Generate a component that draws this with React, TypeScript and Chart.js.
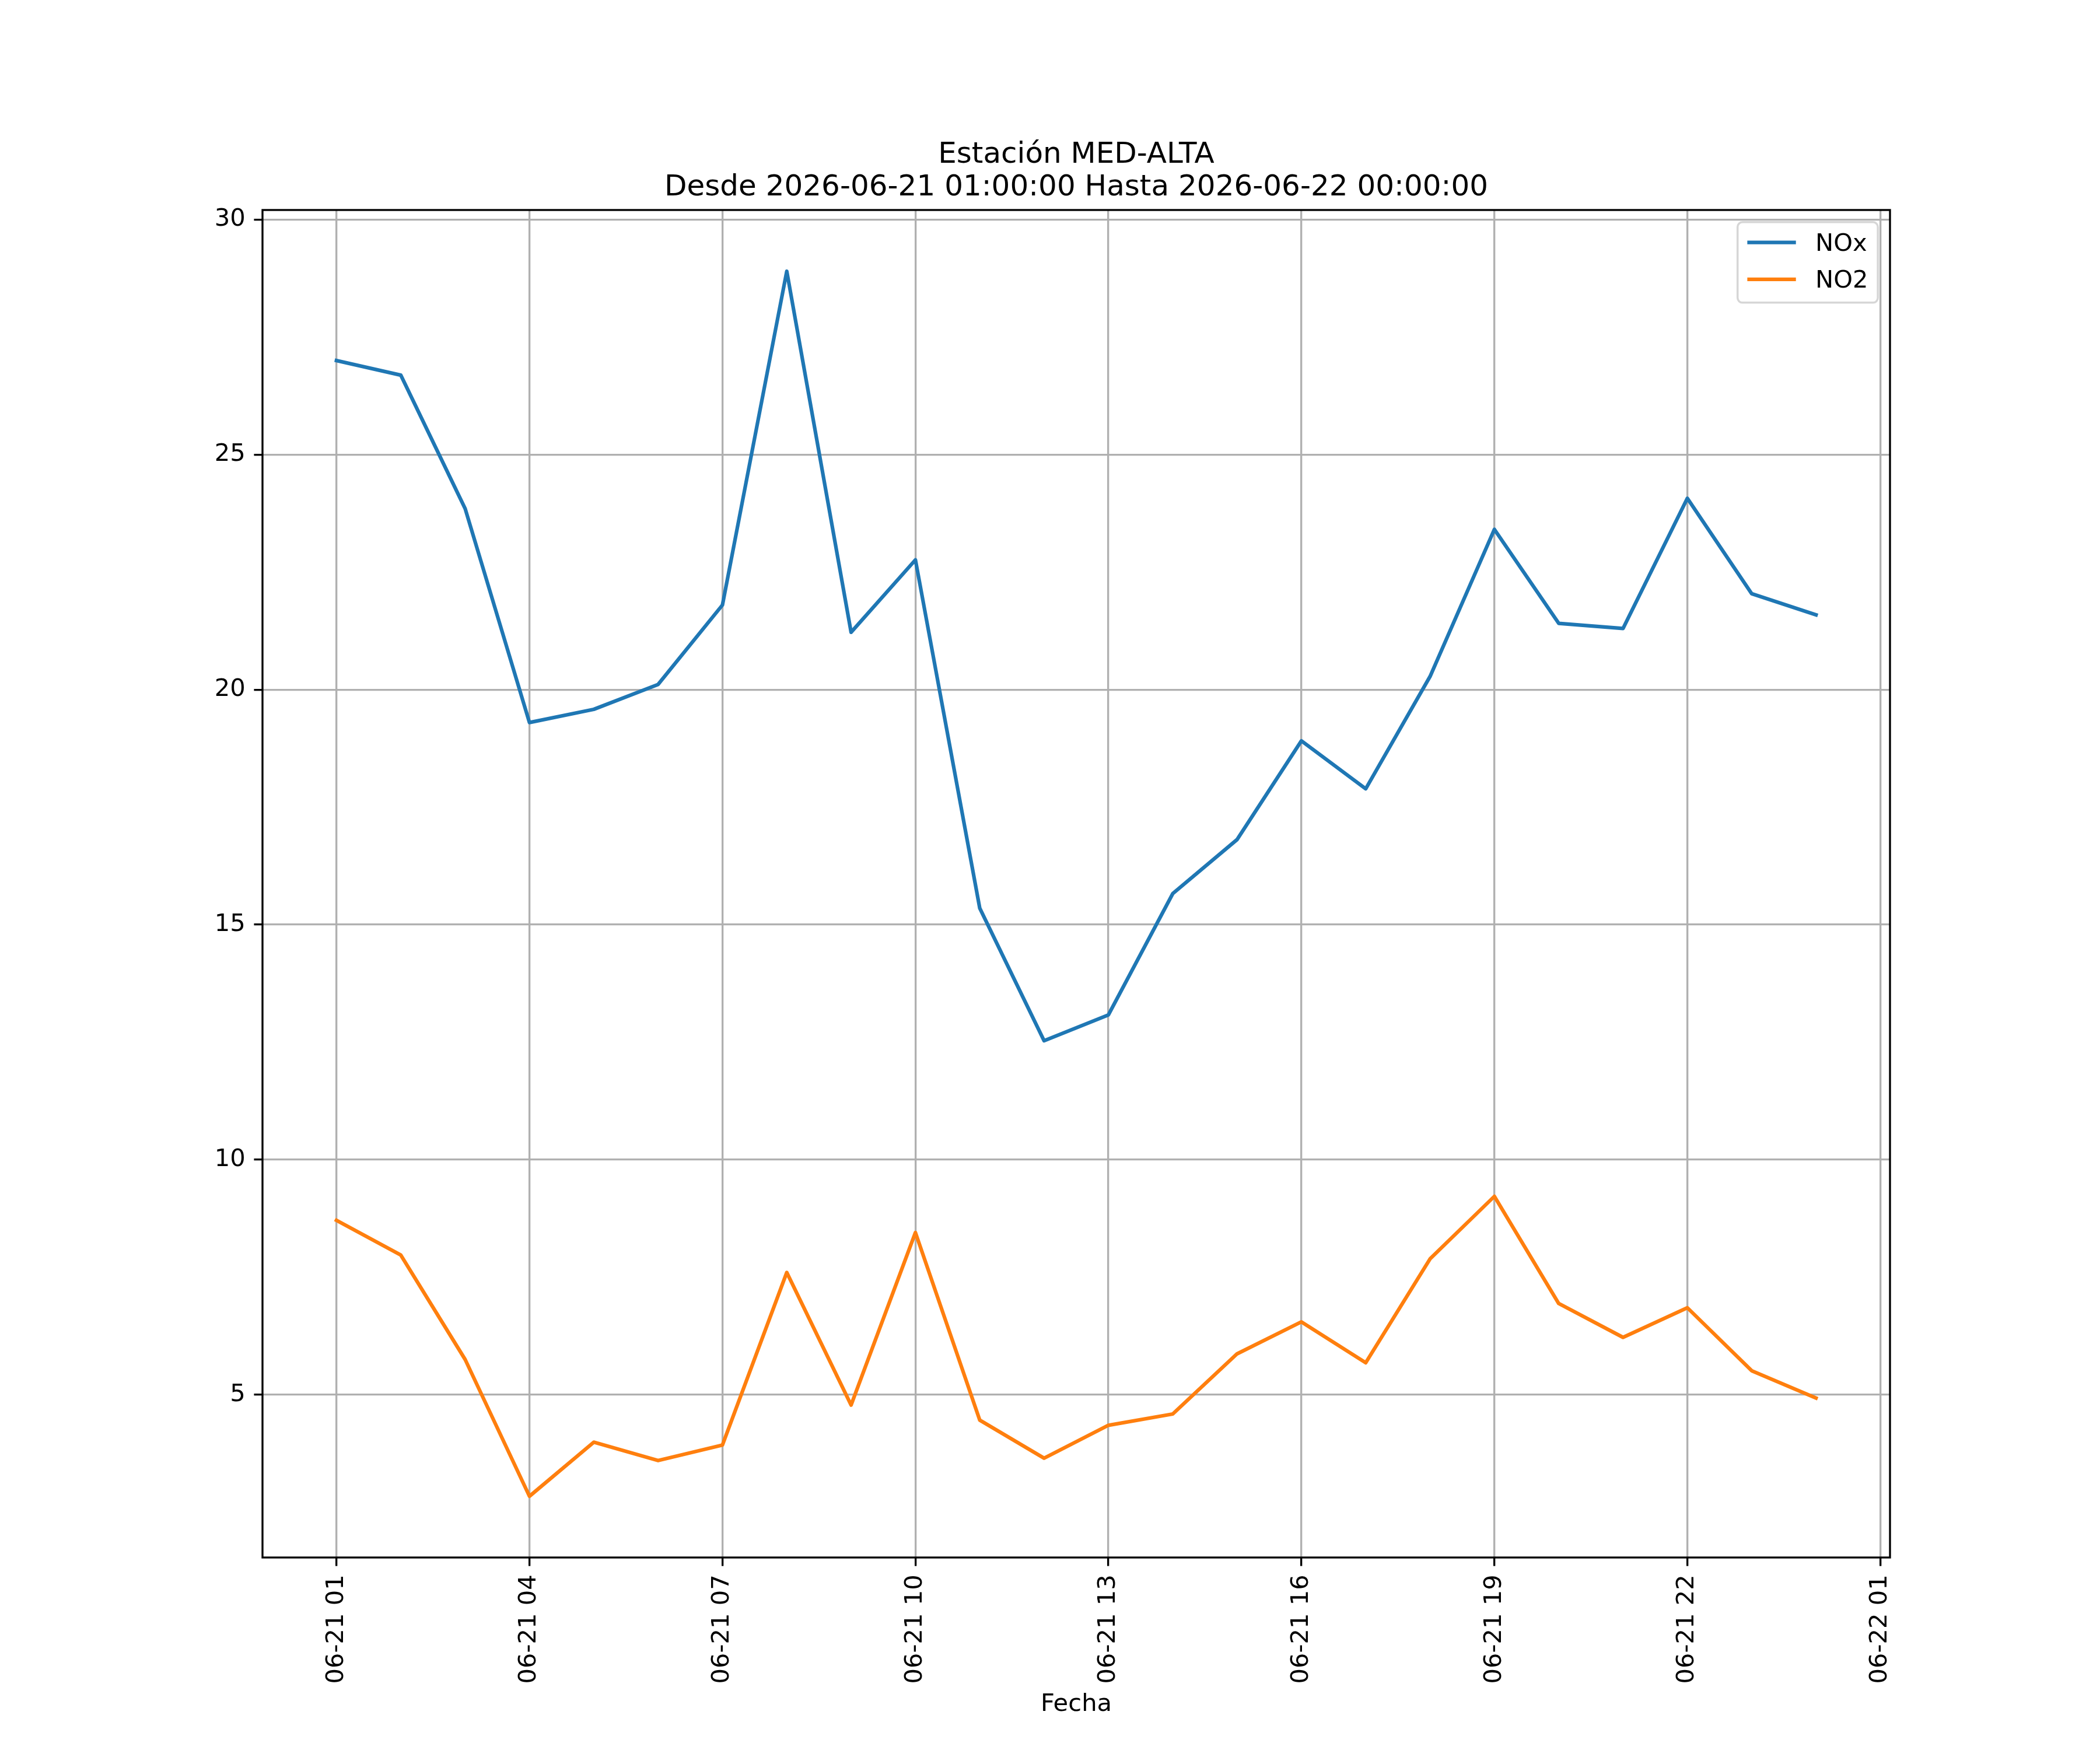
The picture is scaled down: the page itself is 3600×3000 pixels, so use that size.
import React, { useEffect, useRef } from "react";
import { Chart, registerables } from "chart.js";

Chart.register(...registerables);

const times = [
  "2026-06-21T01:00", "2026-06-21T02:00", "2026-06-21T03:00", "2026-06-21T04:00",
  "2026-06-21T05:00", "2026-06-21T06:00", "2026-06-21T07:00", "2026-06-21T08:00",
  "2026-06-21T09:00", "2026-06-21T10:00", "2026-06-21T11:00", "2026-06-21T12:00",
  "2026-06-21T13:00", "2026-06-21T14:00", "2026-06-21T15:00", "2026-06-21T16:00",
  "2026-06-21T17:00", "2026-06-21T18:00", "2026-06-21T19:00", "2026-06-21T20:00",
  "2026-06-21T21:00", "2026-06-21T22:00", "2026-06-21T23:00", "2026-06-22T00:00",
];

const noxValues = [
  27.0, 26.69, 23.85, 19.3, 19.58, 20.11, 21.8, 28.9,
  21.22, 22.76, 15.35, 12.53, 13.08, 15.66, 16.81, 18.91,
  17.89, 20.28, 23.41, 21.41, 21.3, 24.07, 22.04, 21.59,
];

const no2Values = [
  8.71, 7.97, 5.75, 2.84, 3.99, 3.6, 3.93, 7.6,
  4.78, 8.45, 4.46, 3.65, 4.35, 4.59, 5.87, 6.55,
  5.68, 7.89, 9.22, 6.94, 6.22, 6.85, 5.51, 4.93,
];

const seriesLabels = ["NOx", "NO2"];
const seriesColors = ["#1f77b4", "#ff7f0e"];

const tickTimes = [
  "2026-06-21T01:00", "2026-06-21T04:00", "2026-06-21T07:00", "2026-06-21T10:00",
  "2026-06-21T13:00", "2026-06-21T16:00", "2026-06-21T19:00", "2026-06-21T22:00",
  "2026-06-22T01:00",
];

const yTicks = [5, 10, 15, 20, 25, 30];

const titleLines = [
  "Estación MED-ALTA",
  "Desde 2026-06-21 01:00:00 Hasta 2026-06-22 00:00:00",
];
const xAxisTitle = "Fecha";

// ---- derived helpers ----
const parseT = (t: string) => Date.parse(t + ":00Z");
const t0 = parseT(times[0]);
const toHours = (t: string) => (parseT(t) - t0) / 3600000;
const fmtTick = (t: string) => t.slice(5, 10) + " " + t.slice(11, 13);

const PT = 300 / 72; // px per point at 300 dpi
const FONT = "'DejaVu Sans', 'Noto Sans', sans-serif";
const FS = 10 * PT;

export default function App() {
  const canvasRef = useRef<HTMLCanvasElement | null>(null);

  useEffect(() => {
    const canvas = canvasRef.current;
    if (!canvas) return;

    const xs = times.map(toHours);
    const xMinD = Math.min(...xs);
    const xMaxD = Math.max(...xs);
    const xm = (xMaxD - xMinD) * 0.05;
    const allY = [...noxValues, ...no2Values];
    const yMinD = Math.min(...allY);
    const yMaxD = Math.max(...allY);
    const ym = (yMaxD - yMinD) * 0.05;

    const tickHours = tickTimes.map(toHours);
    const tickLabels = tickTimes.map(fmtTick);

    const framePlugin = {
      id: "mplFrame",
      afterDatasetsDraw(chart: any) {
        const { ctx, chartArea: a } = chart;
        ctx.save();
        ctx.strokeStyle = "#000000";
        ctx.lineWidth = 0.8 * PT;
        ctx.strokeRect(a.left, a.top, a.right - a.left, a.bottom - a.top);
        ctx.restore();
      },
    };

    const titlePlugin = {
      id: "mplTitle",
      afterDraw(chart: any) {
        const { ctx, chartArea: a } = chart;
        ctx.save();
        ctx.fillStyle = "#000000";
        ctx.font = `${12 * PT}px ${FONT}`;
        ctx.textAlign = "center";
        ctx.textBaseline = "alphabetic";
        const cx = (a.left + a.right) / 2;
        const n = titleLines.length;
        titleLines.forEach((line, i) => {
          const y = a.top - 6 * PT - (n - 1 - i) * 56;
          ctx.fillText(line, cx, y);
        });
        ctx.restore();
      },
    };

    const legendPlugin = {
      id: "mplLegend",
      afterDraw(chart: any) {
        const { ctx, chartArea: a } = chart;
        const ds = chart.data.datasets;
        ctx.save();
        ctx.font = `${FS}px ${FONT}`;
        const textW = Math.max(...ds.map((d: any) => ctx.measureText(d.label).width));
        const pad = 0.4 * FS;
        const handle = 2 * FS;
        const gap = 0.8 * FS;
        const axpad = 0.5 * FS;
        const w = pad + handle + gap + textW + pad;
        const rowStep = 63.3;
        const h = 138;
        const right = a.right - axpad;
        const top = a.top + axpad;
        const left = right - w;
        const r = 0.2 * FS;
        ctx.beginPath();
        ctx.moveTo(left + r, top);
        ctx.lineTo(left + w - r, top);
        ctx.arcTo(left + w, top, left + w, top + r, r);
        ctx.lineTo(left + w, top + h - r);
        ctx.arcTo(left + w, top + h, left + w - r, top + h, r);
        ctx.lineTo(left + r, top + h);
        ctx.arcTo(left, top + h, left, top + h - r, r);
        ctx.lineTo(left, top + r);
        ctx.arcTo(left, top, left + r, top, r);
        ctx.closePath();
        ctx.fillStyle = "rgba(255,255,255,0.8)";
        ctx.fill();
        ctx.strokeStyle = "rgba(204,204,204,0.8)";
        ctx.lineWidth = 1 * PT * 0.85;
        ctx.stroke();
        ds.forEach((d: any, i: number) => {
          const ly = top + 34.7 + i * rowStep;
          ctx.beginPath();
          ctx.strokeStyle = d.borderColor;
          ctx.lineWidth = 1.5 * PT;
          ctx.lineCap = "butt";
          ctx.moveTo(left + pad, ly);
          ctx.lineTo(left + pad + handle, ly);
          ctx.stroke();
          ctx.fillStyle = "#000000";
          ctx.textAlign = "left";
          ctx.textBaseline = "alphabetic";
          ctx.fillText(d.label, left + pad + handle + gap, ly + 14.5);
        });
        ctx.restore();
      },
    };

    const chart = new Chart(canvas, {
      type: "line",
      data: {
        datasets: [
          {
            label: seriesLabels[0],
            data: xs.map((x, i) => ({ x, y: noxValues[i] })),
            borderColor: seriesColors[0],
            backgroundColor: seriesColors[0],
            borderWidth: 1.5 * PT,
            pointRadius: 0,
            tension: 0,
            borderJoinStyle: "round",
            borderCapStyle: "square",
            fill: false,
          },
          {
            label: seriesLabels[1],
            data: xs.map((x, i) => ({ x, y: no2Values[i] })),
            borderColor: seriesColors[1],
            backgroundColor: seriesColors[1],
            borderWidth: 1.5 * PT,
            pointRadius: 0,
            tension: 0,
            borderJoinStyle: "round",
            borderCapStyle: "square",
            fill: false,
          },
        ],
      },
      options: {
        animation: false,
        responsive: false,
        devicePixelRatio: 1,
        events: [],
        layout: { padding: { top: 360, right: 360, bottom: 0, left: 0 } },
        plugins: {
          legend: { display: false },
          title: { display: false },
          tooltip: { enabled: false },
        },
        scales: {
          x: {
            type: "linear",
            min: xMinD - xm,
            max: xMaxD + xm,
            afterBuildTicks: (scale: any) => {
              scale.ticks = tickHours.map((v) => ({ value: v }));
            },
            afterFit: (scale: any) => {
              scale.height = 330;
            },
            ticks: {
              autoSkip: false,
              minRotation: 90,
              maxRotation: 90,
              padding: 3.5 * PT,
              color: "#000000",
              font: { family: FONT, size: FS },
              callback: (_v: any, i: number) => tickLabels[i],
            },
            grid: {
              color: "#b0b0b0",
              lineWidth: 0.8 * PT,
              drawTicks: true,
              tickLength: 3.5 * PT,
              tickColor: "#000000",
              tickWidth: 0.8 * PT,
            },
            border: { display: false },
            title: {
              display: true,
              text: xAxisTitle,
              color: "#000000",
              font: { family: FONT, size: FS, lineHeight: 1.2 },
              padding: { top: 0, bottom: 53 },
            },
          },
          y: {
            type: "linear",
            min: yMinD - ym,
            max: yMaxD + ym,
            afterBuildTicks: (scale: any) => {
              scale.ticks = yTicks.map((v) => ({ value: v }));
            },
            afterFit: (scale: any) => {
              scale.width = 450;
            },
            ticks: {
              autoSkip: false,
              padding: 3.5 * PT,
              color: "#000000",
              font: { family: FONT, size: FS },
              callback: (v: any) => String(v),
            },
            grid: {
              color: "#b0b0b0",
              lineWidth: 0.8 * PT,
              drawTicks: true,
              tickLength: 3.5 * PT,
              tickColor: "#000000",
              tickWidth: 0.8 * PT,
            },
            border: { display: false },
          },
        },
      } as any,
      plugins: [framePlugin, titlePlugin, legendPlugin],
    });

    return () => chart.destroy();
  }, []);

  return (
    <div style={{ position: "absolute", left: 0, top: 0, width: 3600, height: 3000, background: "#ffffff" }}>
      <canvas
        ref={canvasRef}
        width={3600}
        height={3000}
        style={{ display: "block", width: 3600, height: 3000 }}
      />
    </div>
  );
}
